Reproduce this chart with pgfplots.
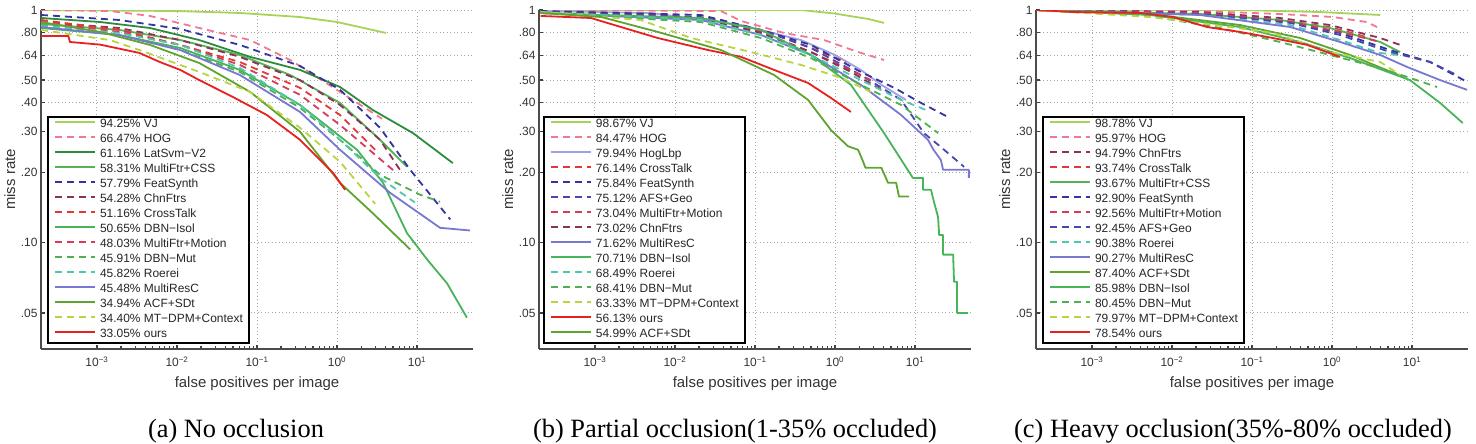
\documentclass[border=0pt]{standalone}
\usepackage{fontspec}
\setmainfont{Liberation Sans}
\newfontfamily\capfont{Liberation Serif}
\usepackage{pgfplots}
\pgfplotsset{compat=1.18}

% detector colours
\definecolor{cVJ}{RGB}{166,212,90}
\definecolor{cHOG}{RGB}{240,120,144}
\definecolor{cLat}{RGB}{44,140,60}
\definecolor{cCSS}{RGB}{84,180,84}
\definecolor{cFeat}{RGB}{52,52,160}
\definecolor{cChn}{RGB}{140,50,90}
\definecolor{cCross}{RGB}{228,56,56}
\definecolor{cIsol}{RGB}{72,180,90}
\definecolor{cMotion}{RGB}{214,60,90}
\definecolor{cMut}{RGB}{80,176,80}
\definecolor{cRoe}{RGB}{80,200,176}
\definecolor{cMRC}{RGB}{120,120,210}
\definecolor{cACF}{RGB}{96,164,48}
\definecolor{cDPM}{RGB}{184,212,64}
\definecolor{cOurs}{RGB}{232,32,32}
\definecolor{cLbp}{RGB}{160,160,228}
\definecolor{cAFS}{RGB}{70,70,176}

\tikzset{
  dsh/.style={dash pattern=on 7bp off 5bp},
  sVJ/.style={color=cVJ,solid},
  sHOG/.style={color=cHOG,dsh},
  sLat/.style={color=cLat,solid},
  sCSS/.style={color=cCSS,solid},
  sFeat/.style={color=cFeat,dsh},
  sChn/.style={color=cChn,dsh},
  sCross/.style={color=cCross,dsh},
  sIsol/.style={color=cIsol,solid},
  sMotion/.style={color=cMotion,dsh},
  sMut/.style={color=cMut,dsh},
  sRoe/.style={color=cRoe,dsh},
  sMRC/.style={color=cMRC,solid},
  sACF/.style={color=cACF,solid},
  sDPM/.style={color=cDPM,dsh},
  sOurs/.style={color=cOurs,solid},
  sLbp/.style={color=cLbp,solid},
  sAFS/.style={color=cAFS,dsh},
}

\pgfplotsset{
  rocaxis/.style={
    scale only axis, width=432bp, height=339bp,
    xmin=2e-4, xmax=50, ymin=0.035, ymax=1,
    axis x line*=bottom, axis y line*=left,
    axis line style={line width=1.6bp, color=black!70},
    xtick={1e-3,1e-2,1e-1,1,10},
    xticklabels={10\textsuperscript{−3},10\textsuperscript{−2},10\textsuperscript{−1},10\textsuperscript{0},10\textsuperscript{1}},
    ytick={0.05,0.1,0.2,0.3,0.4,0.5,0.64,0.8,1},
    yticklabels={.05,.10,.20,.30,.40,.50,.64,.80,1},
    tick align=inside, major tick length=4bp,
    tick style={line width=1.2bp, color=black!75},
    grid=major,
    major grid style={dash pattern=on 1bp off 2.5bp, line width=0.9bp, color=black!35},
    ticklabel style={font=\fontsize{12}{14}\selectfont, text=black!80},
    xticklabel style={yshift=-4bp},
    xlabel={false positives per image}, ylabel={miss rate},
    label style={font=\fontsize{15}{18}\selectfont, text=black!80},
    xlabel style={at={(axis description cs:0.5,-0.115)}, anchor=base, inner sep=0pt},
    ylabel style={at={(axis description cs:-0.06,0.5)}, anchor=base, inner sep=0pt},
    every axis plot/.append style={line width=1.8bp, line join=round},
    legend image code/.code={\draw[##1, line width=2bp] (0bp,3bp) -- (40bp,3bp);},
    legend style={anchor=south west, draw=black, line width=2bp, fill=white,
      inner xsep=6bp, inner ysep=2bp, row sep=3bp, column sep=4bp,
      font=\fontsize{12}{14}\selectfont, text=black!85,
      nodes={inner sep=0pt, text height=9bp, text depth=3bp}},
    legend cell align=left,
  },
}

\begin{document}
\begin{tikzpicture}
\path[use as bounding box] (0,0) rectangle (1476bp,444bp);

% ---------------- (a) no occlusion ----------------
\begin{loglogaxis}[rocaxis, at={(41bp,95bp)}, anchor=south west,
  legend style={at={(0.014,0.015)}}]
\addplot[sVJ] coordinates {(2e-4,1.0) (0.01,0.99) (0.061,0.971) (0.345,0.933) (1,0.888) (4.1,0.797)};
\addplot[sHOG] coordinates {(2e-4,1.0) (1.45e-3,0.99) (4.6e-3,0.943) (0.019,0.837) (0.082,0.743) (0.26,0.61) (1.09,0.445) (3.65,0.341)};
\addplot[sLat] coordinates {(2e-4,0.924) (1.1e-3,0.888) (4.6e-3,0.837) (0.019,0.743) (0.082,0.629) (0.345,0.553) (1.09,0.467) (2.8,0.372) (8.9,0.296) (28,0.22)};
\addplot[sCSS] coordinates {(2e-4,0.871) (1.9e-3,0.821) (0.011,0.743) (0.061,0.641) (0.26,0.526) (1.09,0.399) (3.45,0.277) (7.5,0.212)};
\addplot[sFeat] coordinates {(2e-4,0.952) (1.9e-3,0.906) (0.011,0.829) (0.061,0.708) (0.345,0.575) (1.09,0.454) (3.45,0.312) (8.2,0.206) (26,0.126)};
\addplot[sChn] coordinates {(2e-4,0.888) (1.9e-3,0.837) (0.011,0.743) (0.061,0.629) (0.345,0.50) (1.09,0.391) (3.45,0.277) (6.1,0.206)};
\addplot[sCross] coordinates {(2e-4,0.906) (1.9e-3,0.821) (0.011,0.708) (0.061,0.598) (0.345,0.463) (1.09,0.354) (3.0,0.251)};
\addplot[sIsol] coordinates {(2e-4,0.837) (1.9e-3,0.781) (0.011,0.687) (0.061,0.553) (0.345,0.391) (1.78,0.251) (3.76,0.181) (7.5,0.110) (13.3,0.085) (23.7,0.067) (42,0.0477)};
\addplot[sMotion] coordinates {(2e-4,0.888) (1.9e-3,0.805) (0.011,0.708) (0.061,0.581) (0.345,0.432) (1.09,0.321) (5.3,0.202)};
\addplot[sMut] coordinates {(2e-4,0.862) (1.9e-3,0.781) (0.011,0.673) (0.061,0.542) (0.345,0.38) (1.09,0.277) (3.45,0.196) (10.9,0.161) (19.4,0.150)};
\addplot[sRoe] coordinates {(2e-4,0.854) (1.9e-3,0.797) (0.011,0.708) (0.061,0.564) (0.345,0.391) (1.09,0.277) (3.45,0.19) (9.4,0.149)};
\addplot[sMRC] coordinates {(2e-4,0.845) (1.9e-3,0.781) (0.011,0.673) (0.061,0.526) (0.345,0.365) (1.09,0.251) (4.6,0.164) (19.4,0.116) (46,0.113)};
\addplot[sACF] coordinates {(2e-4,0.888) (1.1e-3,0.805) (4.6e-3,0.708) (0.019,0.592) (0.082,0.445) (0.345,0.30) (1.09,0.181) (2.8,0.134) (8.2,0.0937)};
\addplot[sDPM] coordinates {(2e-4,0.821) (1.45e-3,0.743) (3.4e-3,0.673) (0.019,0.542) (0.082,0.445) (0.345,0.312) (1.09,0.223) (3.0,0.147)};
\addplot[sOurs] coordinates {(2e-4,0.773) (4.4e-4,0.773) (4.6e-4,0.729) (1.1e-3,0.71) (3.4e-3,0.654) (6.1e-3,0.598) (0.011,0.553) (0.019,0.50) (0.05,0.423) (0.133,0.354) (0.345,0.277) (0.89,0.20) (1.26,0.169)};
\legend{94.25\% VJ, 66.47\% HOG, 61.16\% LatSvm−V2, 58.31\% MultiFtr+CSS, 57.79\% FeatSynth, 54.28\% ChnFtrs, 51.16\% CrossTalk, 50.65\% DBN−Isol, 48.03\% MultiFtr+Motion, 45.91\% DBN−Mut, 45.82\% Roerei, 45.48\% MultiResC, 34.94\% ACF+SDt, 34.40\% MT−DPM+Context, 33.05\% ours}
\end{loglogaxis}

% ---------------- (b) partial occlusion ----------------
\begin{loglogaxis}[rocaxis, at={(539bp,95bp)}, anchor=south west,
  legend style={at={(0.009,0.015)}}]
\addplot[sVJ] coordinates {(2.1e-4,1) (0.376,1) (1,0.965) (2.6,0.915) (4.1,0.88)};
\addplot[sHOG] coordinates {(2.1e-4,1) (0.0376,0.99) (0.067,0.897) (0.23,0.797) (0.73,0.743) (1.94,0.66) (4.1,0.61)};
\addplot[sLbp] coordinates {(2.1e-4,0.99) (5e-3,0.971) (0.067,0.862) (0.376,0.743) (1,0.641) (2.1,0.553) (3.8,0.477) (7.7,0.411)};
\addplot[sCross] coordinates {(2.1e-4,0.98) (5e-3,0.961) (0.0376,0.906) (0.159,0.797) (0.5,0.687) (1.37,0.598)};
\addplot[sFeat] coordinates {(2.1e-4,0.99) (0.021,0.952) (0.119,0.821) (0.5,0.708) (2.1,0.542) (5.5,0.463) (11.9,0.399) (25.8,0.347)};
\addplot[sAFS] coordinates {(2.1e-4,0.98) (0.021,0.933) (0.119,0.821) (0.5,0.687) (2.1,0.526) (6.7,0.411) (12.9,0.296) (21,0.258) (41,0.212)};
\addplot[sMotion] coordinates {(2.1e-4,0.971) (0.021,0.924) (0.119,0.805) (0.5,0.66) (1.37,0.564) (2.8,0.5)};
\addplot[sChn] coordinates {(2.1e-4,0.98) (0.021,0.924) (0.119,0.797) (0.5,0.66) (1.58,0.542) (3.8,0.454)};
\addplot[sMRC] coordinates {(2.1e-4,0.971) (0.021,0.906) (0.119,0.781) (0.5,0.641) (2.1,0.477) (6.7,0.354) (14.5,0.277) (17,0.251) (21,0.227) (22.4,0.206) (47,0.206) (47,0.19)};
\addplot[sIsol] coordinates {(2.1e-4,0.971) (0.021,0.924) (0.119,0.821) (0.5,0.641) (1.58,0.477) (4.1,0.296) (9.4,0.19) (12.6,0.19) (12.6,0.169) (15.8,0.169) (17.3,0.149) (19.4,0.129) (20,0.108) (22.4,0.108) (22.4,0.089) (29.9,0.089) (30.7,0.068) (33.5,0.068) (33.5,0.05) (46,0.05)};
\addplot[sRoe] coordinates {(2.1e-4,0.98) (0.021,0.906) (0.119,0.781) (0.5,0.641) (2.1,0.5) (6.7,0.411) (13.7,0.372)};
\addplot[sMut] coordinates {(2.1e-4,0.971) (0.021,0.888) (0.119,0.758) (0.5,0.622) (2.1,0.477) (6.7,0.391) (19.4,0.296)};
\addplot[sDPM] coordinates {(2.1e-4,0.98) (3.7e-3,0.906) (0.016,0.758) (0.089,0.66) (0.376,0.581) (1.19,0.511) (2.8,0.445)};
\addplot[sOurs] coordinates {(2.1e-4,0.943) (8.9e-4,0.924) (2.8e-3,0.821) (6.1e-3,0.758) (0.026,0.673) (0.067,0.629) (0.173,0.553) (0.46,0.486) (0.89,0.419) (1.58,0.365)};
\addplot[sACF] coordinates {(2.1e-4,0.971) (1.2e-3,0.933) (6.1e-3,0.805) (0.0376,0.673) (0.173,0.526) (0.46,0.411) (0.89,0.305) (1.45,0.26) (1.94,0.251) (2.2,0.227) (2.4,0.21) (3.8,0.21) (4.6,0.181) (5.8,0.181) (6.3,0.158) (8.4,0.158)};
\legend{98.67\% VJ, 84.47\% HOG, 79.94\% HogLbp, 76.14\% CrossTalk, 75.84\% FeatSynth, 75.12\% AFS+Geo, 73.04\% MultiFtr+Motion, 73.02\% ChnFtrs, 71.62\% MultiResC, 70.71\% DBN−Isol, 68.49\% Roerei, 68.41\% DBN−Mut, 63.33\% MT−DPM+Context, 56.13\% ours, 54.99\% ACF+SDt}
\end{loglogaxis}

% ---------------- (c) heavy occlusion ----------------
\begin{loglogaxis}[rocaxis, at={(1036bp,95bp)}, anchor=south west,
  legend style={at={(0.014,0.015)}}]
\addplot[sVJ] coordinates {(2e-4,1) (0.071,1) (0.71,0.98) (4.0,0.952)};
\addplot[sHOG] coordinates {(2e-4,1) (0.0224,0.99) (0.224,0.961) (1.03,0.933) (2.7,0.888) (3.65,0.845)};
\addplot[sChn] coordinates {(2e-4,1) (0.0224,0.98) (0.224,0.924) (0.94,0.862) (4.0,0.758) (7.1,0.708)};
\addplot[sCross] coordinates {(2e-4,1) (0.0224,0.971) (0.224,0.906) (0.94,0.845) (3.0,0.758)};
\addplot[sCSS] coordinates {(2e-4,1) (0.0224,0.961) (0.224,0.906) (0.94,0.837) (4.0,0.729) (7.1,0.66)};
\addplot[sFeat] coordinates {(2e-4,1) (0.0224,0.971) (0.30,0.888) (1.26,0.797) (5.3,0.673) (16.8,0.598) (48.7,0.491)};
\addplot[sMotion] coordinates {(2e-4,1) (0.0224,0.971) (0.30,0.888) (1.26,0.805) (4.0,0.729)};
\addplot[sAFS] coordinates {(2e-4,1) (0.0224,0.961) (0.30,0.88) (1.26,0.781) (5.3,0.66) (16.8,0.598) (36,0.526)};
\addplot[sRoe] coordinates {(2e-4,1) (0.0224,0.952) (0.30,0.862) (1.26,0.743) (4.0,0.654) (6.5,0.641)};
\addplot[sMRC] coordinates {(2e-4,1) (0.0224,0.952) (0.30,0.845) (1.26,0.729) (4.0,0.641) (8.7,0.569) (22.4,0.50) (48.7,0.454)};
\addplot[sACF] coordinates {(2e-4,1) (5.3e-3,0.961) (0.071,0.862) (0.40,0.758) (1.68,0.641) (7.7,0.516)};
\addplot[sIsol] coordinates {(2e-4,1) (5.3e-3,0.952) (0.071,0.845) (0.40,0.729) (1.68,0.622) (9.4,0.50) (22.4,0.399) (43,0.327)};
\addplot[sMut] coordinates {(2e-4,1) (5.3e-3,0.943) (0.040,0.837) (0.224,0.729) (0.94,0.641) (4.0,0.564) (9.4,0.511) (20.5,0.467)};
\addplot[sDPM] coordinates {(2e-4,1) (5.3e-3,0.933) (0.0224,0.88) (0.183,0.797) (0.94,0.66) (4.0,0.598) (7.1,0.526)};
\addplot[sOurs] coordinates {(2e-4,1) (5.8e-4,0.98) (4e-3,0.971) (0.0103,0.933) (0.0274,0.845) (0.071,0.805) (0.183,0.758) (0.49,0.708) (1.26,0.629)};
\legend{98.78\% VJ, 95.97\% HOG, 94.79\% ChnFtrs, 93.74\% CrossTalk, 93.67\% MultiFtr+CSS, 92.90\% FeatSynth, 92.56\% MultiFtr+Motion, 92.45\% AFS+Geo, 90.38\% Roerei, 90.27\% MultiResC, 87.40\% ACF+SDt, 85.98\% DBN−Isol, 80.45\% DBN−Mut, 79.97\% MT−DPM+Context, 78.54\% ours}
\end{loglogaxis}

% sub-figure captions
\begin{scope}[every node/.style={font=\capfont\fontsize{26.5}{30}\selectfont, anchor=base, inner sep=0pt}]
\node at (236bp,7bp) {(a) No occlusion};
\node at (735bp,7bp) {(b) Partial occlusion(1-35\% occluded)};
\node at (1233bp,7bp) {(c) Heavy occlusion(35\%-80\% occluded)};
\end{scope}
\end{tikzpicture}
\end{document}
